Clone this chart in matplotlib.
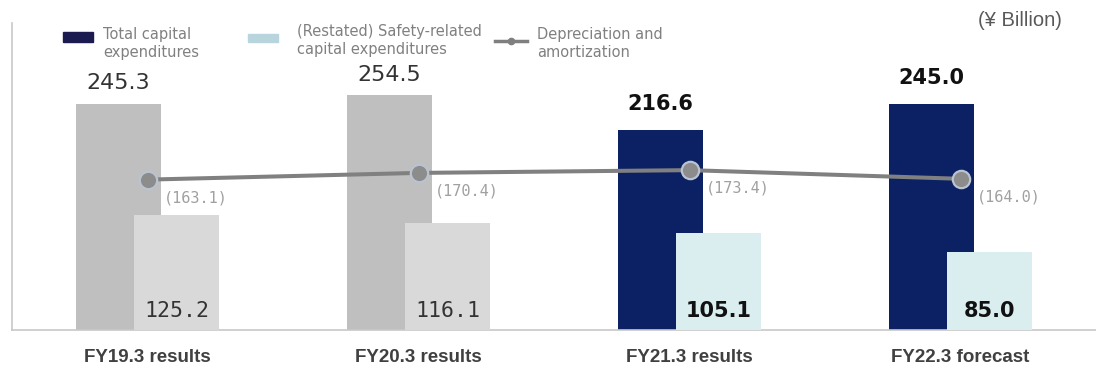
import matplotlib
matplotlib.use("Agg")
import matplotlib.pyplot as plt
from matplotlib.patches import Rectangle
from matplotlib.lines import Line2D
import numpy as np

categories = ["FY19.3 results", "FY20.3 results", "FY21.3 results", "FY22.3 forecast"]
total_capex = [245.3, 254.5, 216.6, 245.0]
safety_capex = [125.2, 116.1, 105.1, 85.0]
depreciation = [163.1, 170.4, 173.4, 164.0]
highlight = [False, False, True, True]

legend_labels = ["Total capital\nexpenditures",
                 "(Restated) Safety-related\ncapital expenditures",
                 "Depreciation and\namortization"]
unit_label = "(¥ Billion)"

NAVY = "#0B2163"
LIGHT_CYAN = "#DAEDEF"
GRAY_DARK = "#BFBFBF"
GRAY_LIGHT = "#D9D9D9"
LINE_GRAY = "#808080"

W, H = 1096, 372
fig = plt.figure(figsize=(W / 100, H / 100), dpi=100)
ax = fig.add_axes([12 / W, 1 - 330 / H, 1 - 12 / W, (330 - 23) / H])

x = np.arange(len(categories))
bw = 0.313
off = 0.108

tot_colors = [NAVY if h else GRAY_DARK for h in highlight]
saf_colors = [LIGHT_CYAN if h else GRAY_LIGHT for h in highlight]

ax.bar(x - off, total_capex, width=bw, color=tot_colors, zorder=2)
ax.bar(x + off, safety_capex, width=bw, color=saf_colors, zorder=3)
ax.plot(x, depreciation, color=LINE_GRAY, lw=2.9, zorder=4,
        marker="o", markersize=12.5, markerfacecolor="#8C8C8C",
        markeredgecolor="#B9C3D1", markeredgewidth=1.6)

for i in range(len(categories)):
    if highlight[i]:
        ax.annotate(f"{total_capex[i]:.1f}", (x[i] - off, total_capex[i]),
                    xytext=(0, 19), textcoords="offset points",
                    ha="center", va="center", fontsize=15, fontweight="bold",
                    color="#111111", family="DejaVu Sans")
        ax.annotate(f"{safety_capex[i]:.1f}", (x[i] + off, 0),
                    xytext=(0, 14), textcoords="offset points",
                    ha="center", va="center", fontsize=15, fontweight="bold",
                    color="#111111", family="DejaVu Sans")
    else:
        ax.annotate(f"{total_capex[i]:.1f}", (x[i] - off, total_capex[i]),
                    xytext=(0, 15), textcoords="offset points",
                    ha="center", va="center", fontsize=16,
                    color="#333333", family="DejaVu Sans")
        ax.annotate(f"{safety_capex[i]:.1f}", (x[i] + off, 0),
                    xytext=(0, 14), textcoords="offset points",
                    ha="center", va="center", fontsize=15.5,
                    color="#333333", family="DejaVu Sans Mono")
    ax.annotate(f"({depreciation[i]:.1f})", (x[i], depreciation[i]),
                xytext=(12, -13), textcoords="offset points",
                ha="left", va="center", fontsize=11,
                color="#A0A0A0", family="DejaVu Sans Mono", zorder=5)

ax.set_xlim(-0.5, 3.5)
ax.set_ylim(0, 333)
ax.set_xticks(x)
ax.set_xticklabels(categories, family="Liberation Sans", fontweight="bold",
                   fontsize=13.5, color="#404040")
ax.tick_params(axis="x", length=0, pad=14)
ax.set_yticks([])
for s in ["top", "right"]:
    ax.spines[s].set_visible(False)
for s in ["left", "bottom"]:
    ax.spines[s].set_color("#C8C8C8")
    ax.spines[s].set_linewidth(1.2)

# legend (manual placement)
def fx(px):
    return px / W

def fy(py):
    return 1 - py / H

fig.add_artist(Rectangle((fx(63), fy(42)), 30 / W, 10 / H, color="#1B1B4F",
                         transform=fig.transFigure))
fig.add_artist(Rectangle((fx(248), fy(42)), 30 / W, 8 / H, color="#B8D5DE",
                         transform=fig.transFigure))
fig.add_artist(Line2D([fx(495), fx(527)], [fy(41), fy(41)], color="#7F7F7F",
                      lw=2.5, transform=fig.transFigure))
fig.add_artist(Line2D([fx(511)], [fy(41)], color="#7F7F7F", marker="o",
                      markersize=4.5, transform=fig.transFigure))
fig.text(fx(103), fy(43.5), legend_labels[0], ha="left", va="center",
         fontsize=10.5, color="#808080", linespacing=1.25, family="DejaVu Sans")
fig.text(fx(297), fy(40.5), legend_labels[1], ha="left", va="center",
         fontsize=10.5, color="#808080", linespacing=1.2, family="DejaVu Sans")
fig.text(fx(537), fy(43.5), legend_labels[2], ha="left", va="center",
         fontsize=10.5, color="#808080", linespacing=1.25, family="DejaVu Sans")
fig.text(fx(1062), fy(21), unit_label, ha="right", va="center",
         fontsize=14.5, color="#595959", family="Liberation Sans")

fig.savefig("out.png", dpi=100, facecolor="white")
